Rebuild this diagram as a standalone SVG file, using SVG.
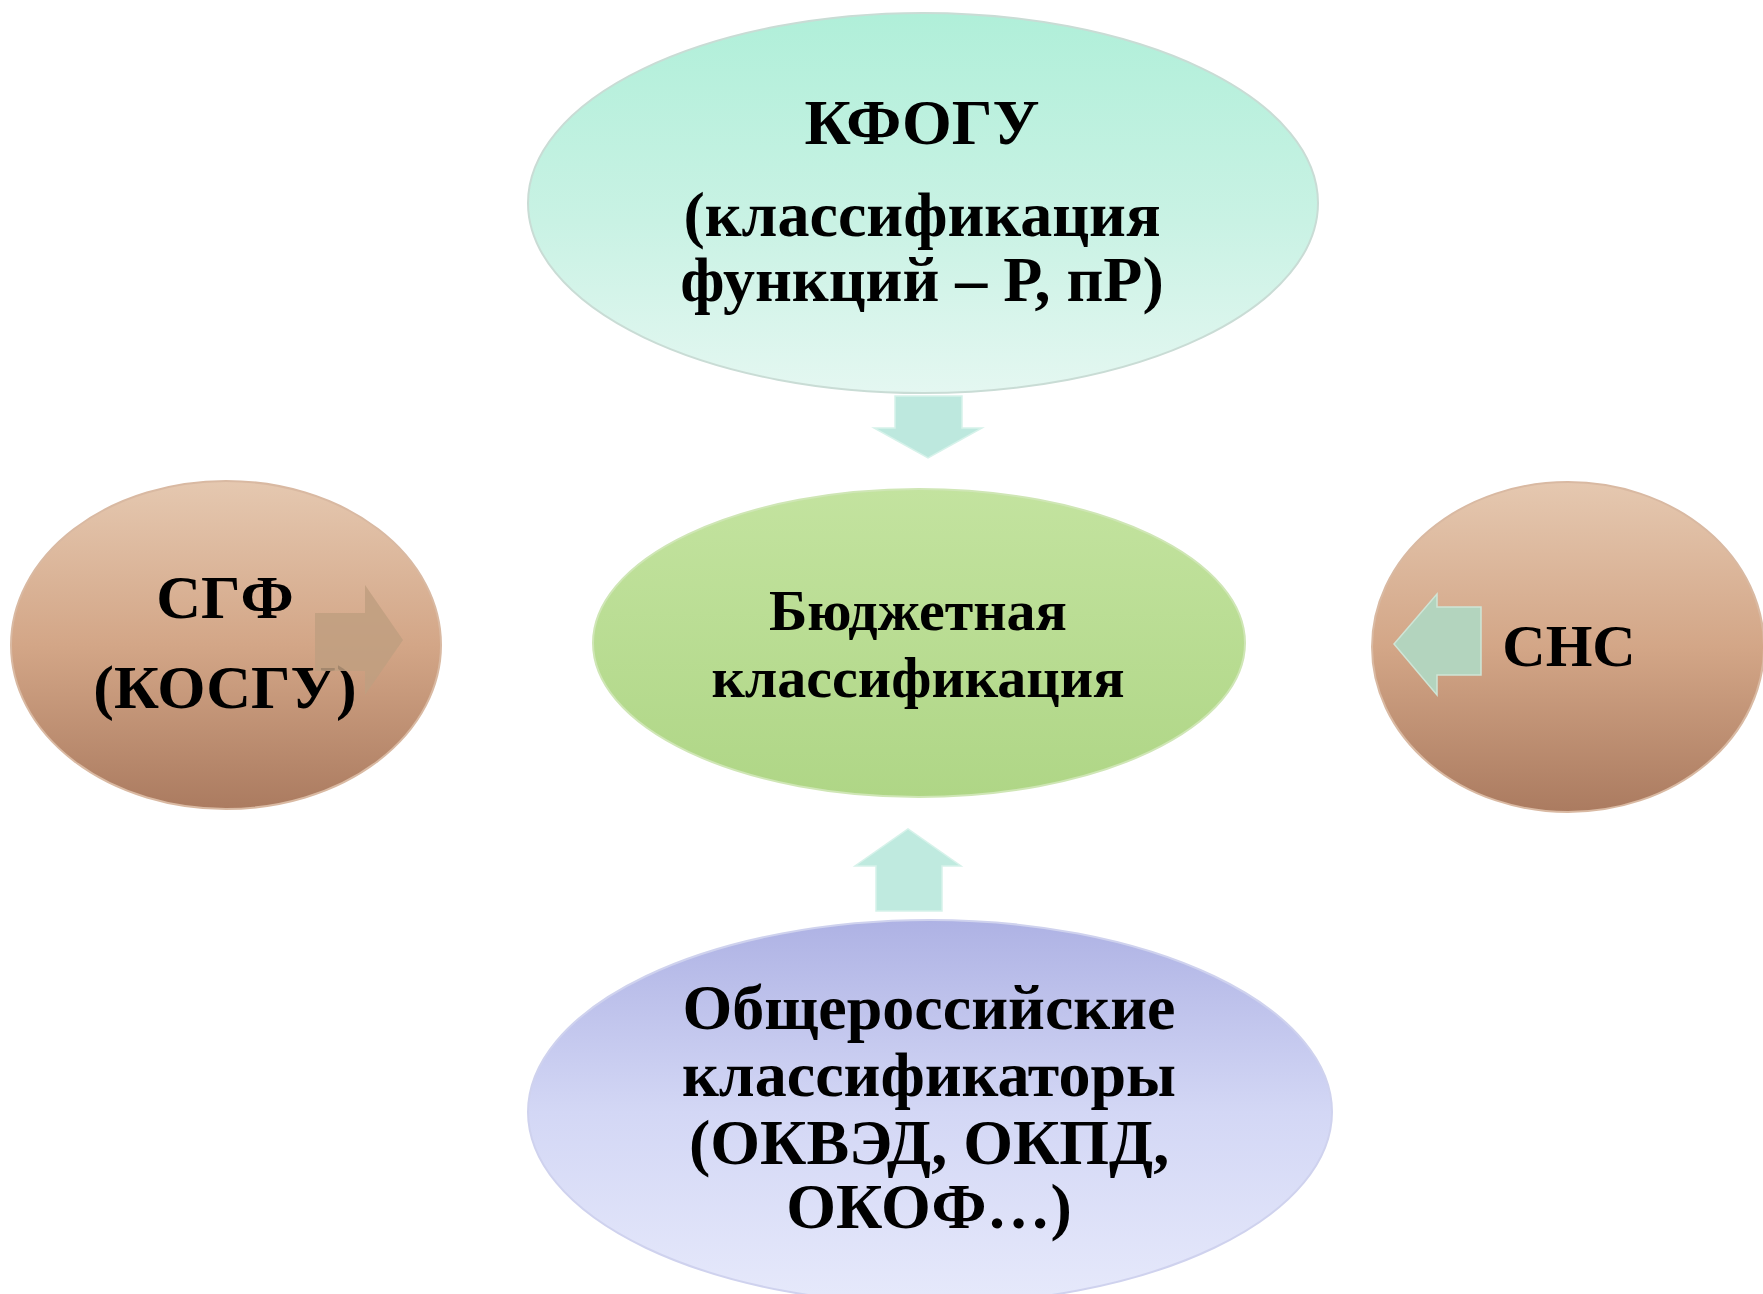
<svg xmlns="http://www.w3.org/2000/svg" width="1763" height="1294" viewBox="0 0 1763 1294">
<defs>
<linearGradient id="gTop" x1="0" y1="0" x2="0" y2="1">
<stop offset="0" stop-color="#b0efd9"/>
<stop offset="0.55" stop-color="#c9f2e4"/>
<stop offset="1" stop-color="#e4f7f1"/>
</linearGradient>
<linearGradient id="gMid" x1="0" y1="0" x2="0" y2="1">
<stop offset="0" stop-color="#c3e39f"/>
<stop offset="1" stop-color="#afd686"/>
</linearGradient>
<linearGradient id="gBrown" x1="0" y1="0" x2="0" y2="1">
<stop offset="0" stop-color="#e5c8b0"/>
<stop offset="0.5" stop-color="#d3a687"/>
<stop offset="1" stop-color="#ab7b60"/>
</linearGradient>
<linearGradient id="gBot" x1="0" y1="0" x2="0" y2="1">
<stop offset="0" stop-color="#aeb2e4"/>
<stop offset="0.5" stop-color="#d3d7f5"/>
<stop offset="1" stop-color="#e6e9fb"/>
</linearGradient>
</defs>
<style>
.node{stroke-width:2}
.t{font-family:"Liberation Serif","Times New Roman",serif;font-weight:bold;fill:#000;text-anchor:middle}
.arrow{stroke-width:1.5;stroke-linejoin:miter}
</style>
<rect width="1763" height="1294" fill="#ffffff"/>

<g id="connectors">
<polygon class="arrow" points="895,396 962,396 962,428 982,428 928,458 874,428 895,428" fill="#bde8de" stroke="#d6f2ea"/>
<polygon class="arrow" points="876,911 942,911 942,866 961,866 908,829 855,866 876,866" fill="#bfeadf" stroke="#d6f2ea"/>
</g>

<g id="node-kfogu">
<ellipse class="node" cx="923" cy="203" rx="395" ry="190" fill="url(#gTop)" stroke="#c9dcd5"/>
<text class="t" x="922" y="144" font-size="64">КФОГУ</text>
<text class="t" x="922" y="236" font-size="64">(классификация</text>
<text class="t" x="922" y="301" font-size="64">функций – Р, пР)</text>
</g>

<g id="node-budget">
<ellipse class="node" cx="919" cy="643" rx="326" ry="154" fill="url(#gMid)" stroke="#cfe6b5"/>
<text class="t" x="918" y="630" font-size="58">Бюджетная</text>
<text class="t" x="918" y="697" font-size="58">классификация</text>
</g>

<g id="node-sgf">
<ellipse class="node" cx="226" cy="645" rx="215" ry="164" fill="url(#gBrown)" stroke="#d9b9a2"/>
<text class="t" x="225" y="618" font-size="62">СГФ</text>
<text class="t" x="225" y="708" font-size="62">(КОСГУ)</text>
<polygon points="315,613 365,613 365,585 403,640 365,695 365,671 315,671" fill="#c09f80" fill-opacity="0.85"/>
</g>

<g id="node-sns">
<ellipse class="node" cx="1568" cy="647" rx="196" ry="165" fill="url(#gBrown)" stroke="#d9b9a2"/>
<text class="t" x="1569" y="666" font-size="60">СНС</text>
<polygon class="arrow" points="1481,607 1481,675 1437,675 1437,695 1394,644 1437,594 1437,607" fill="#b3d4be" stroke="#cfe5d6"/>
</g>

<g id="node-okved">
<ellipse class="node" cx="930" cy="1112" rx="402" ry="192" fill="url(#gBot)" stroke="#cfd2ee"/>
<text class="t" x="929" y="1029" font-size="64">Общероссийские</text>
<text class="t" x="929" y="1096" font-size="64">классификаторы</text>
<text class="t" x="929" y="1164" font-size="64">(ОКВЭД, ОКПД,</text>
<text class="t" x="929" y="1228" font-size="64">ОКОФ…)</text>
</g>
</svg>
